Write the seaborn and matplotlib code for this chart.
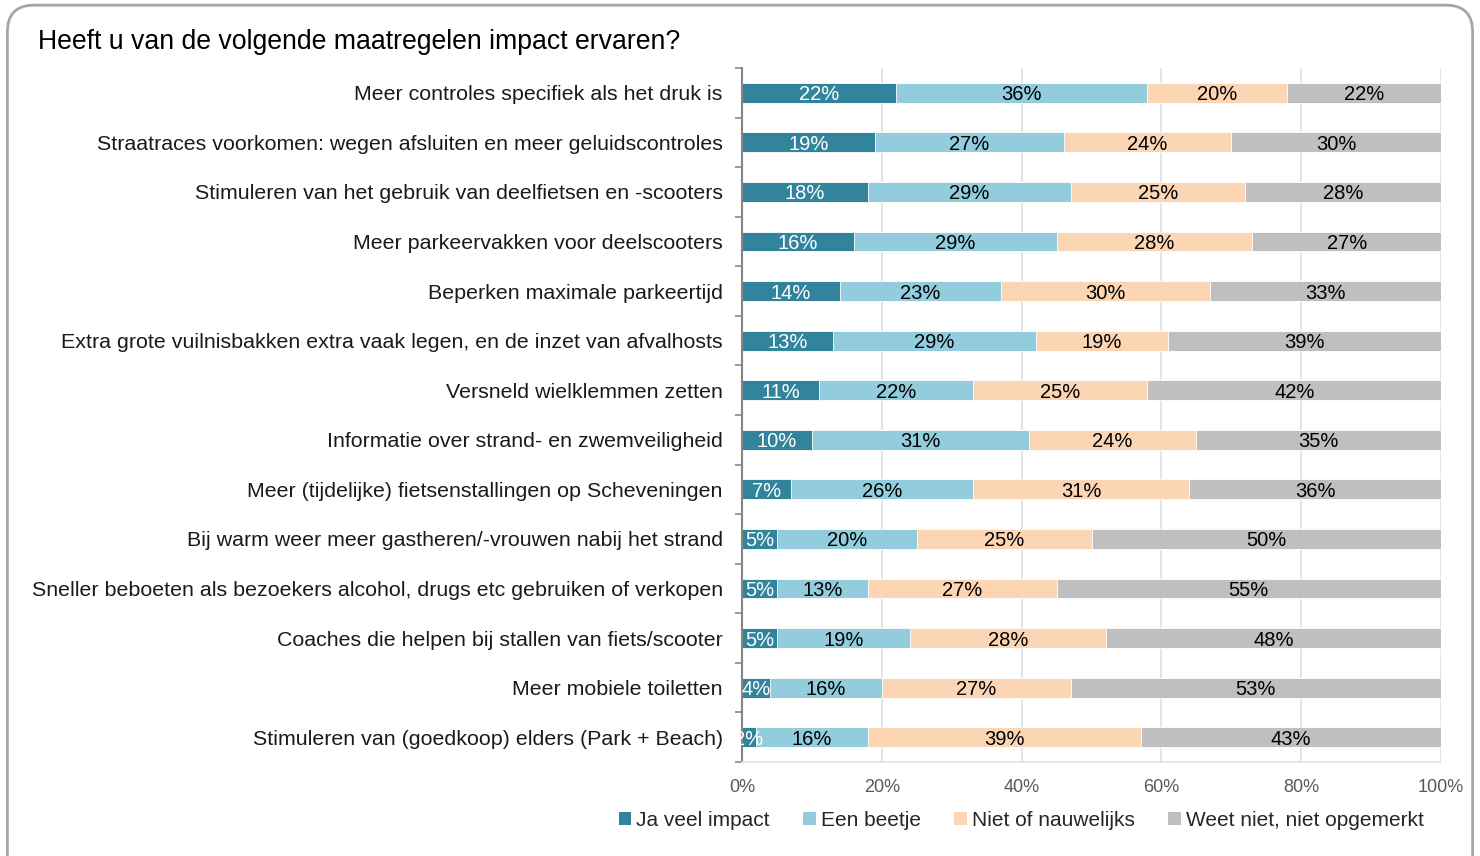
import matplotlib
matplotlib.use("Agg")
import matplotlib.pyplot as plt
from matplotlib.patches import Patch, FancyBboxPatch
import seaborn as sns
import pandas as pd

# DATA
categories = [
    "Meer controles specifiek als het druk is",
    "Straatraces voorkomen: wegen afsluiten en meer geluidscontroles",
    "Stimuleren van het gebruik van deelfietsen en -scooters",
    "Meer parkeervakken voor deelscooters",
    "Beperken maximale parkeertijd",
    "Extra grote vuilnisbakken extra vaak legen, en de inzet van afvalhosts",
    "Versneld wielklemmen zetten",
    "Informatie over strand- en zwemveiligheid",
    "Meer (tijdelijke) fietsenstallingen op Scheveningen",
    "Bij warm weer meer gastheren/-vrouwen nabij het strand",
    "Sneller beboeten als bezoekers alcohol, drugs etc gebruiken of verkopen",
    "Coaches die helpen bij stallen van fiets/scooter",
    "Meer mobiele toiletten",
    "Stimuleren van (goedkoop) elders (Park + Beach)",
]
ja_veel = [22, 19, 18, 16, 14, 13, 11, 10, 7, 5, 5, 5, 4, 2]
een_beetje = [36, 27, 29, 29, 23, 29, 22, 31, 26, 20, 13, 19, 16, 16]
niet = [20, 24, 25, 28, 30, 19, 25, 24, 31, 25, 27, 28, 27, 39]
weet_niet = [22, 30, 28, 27, 33, 39, 42, 35, 36, 50, 55, 48, 53, 43]

series = ["Ja veel impact", "Een beetje", "Niet of nauwelijks", "Weet niet, niet opgemerkt"]
colors = ["#31849B", "#93CDDD", "#FCD5B4", "#BFBFBF"]
text_colors = ["white", "black", "black", "black"]

df = pd.DataFrame({"cat": categories, series[0]: ja_veel, series[1]: een_beetje,
                   series[2]: niet, series[3]: weet_niet})
cum = df[series].cumsum(axis=1)

plt.rcParams["font.family"] = ["Liberation Sans", "DejaVu Sans"]

fig = plt.figure(figsize=(14.8, 8.56), dpi=100)
ax = fig.add_axes([0.5014, 0.1098, 0.4723, 0.8108])

# stacked bars: draw cumulative totals, widest first
for i in range(3, -1, -1):
    sns.barplot(x=cum[series[i]], y=df["cat"], color=colors[i], orient="h",
                width=0.4, saturation=1, edgecolor="white", linewidth=0.6, ax=ax, zorder=2)

# value labels
for r in range(len(categories)):
    for i, s in enumerate(series):
        v = df.loc[r, s]
        ax.text(cum.loc[r, s] - v / 2, r, f"{v}%", ha="center", va="center_baseline",
                fontsize=14.5, color=text_colors[i], zorder=3)

ax.set_xlim(0, 100)
ax.set_ylim(len(categories) - 0.5, -0.5)
ax.set_xticks(range(0, 101, 20))
ax.set_xticklabels([f"{t}%" for t in range(0, 101, 20)])
ax.set_xlabel("")
ax.set_ylabel("")
ax.grid(axis="x", color="#D9E1EE", linewidth=1.2, zorder=0)
ax.set_axisbelow(True)

for side in ["top", "right"]:
    ax.spines[side].set_visible(False)
ax.spines["bottom"].set_color("#D9E1EE")
ax.spines["bottom"].set_linewidth(1.2)
ax.spines["left"].set_color("#868686")
ax.spines["left"].set_linewidth(1.5)

ax.tick_params(axis="x", length=0, labelsize=13, labelcolor="#595959", pad=12)
ax.tick_params(axis="y", which="major", length=0, labelsize=15.4, labelcolor="#1a1a1a", pad=14)
for lab in ax.get_yticklabels():
    lab.set_verticalalignment("center_baseline")
ax.set_yticks([r + 0.5 for r in range(-1, len(categories))], minor=True)
ax.tick_params(axis="y", which="minor", length=5, width=1.2, color="#868686")

fig.text(0.026, 0.955, "Heeft u van de volgende maatregelen impact ervaren?",
         fontsize=19.2, color="black", va="center_baseline", ha="left")

handles = [Patch(facecolor=c, edgecolor="none") for c in colors]
fig.legend(handles, series, loc="center", bbox_to_anchor=(0.69, 0.042), ncol=4,
           frameon=False, fontsize=15, handlelength=0.6, handleheight=0.6,
           handletextpad=0.25, columnspacing=1.6, labelcolor="#262626")

frame = FancyBboxPatch((0.005, -0.03), 0.99, 1.024, boxstyle="round,pad=0,rounding_size=0.018",
                       transform=fig.transFigure, facecolor="none", edgecolor="#A6A6A6",
                       linewidth=2, zorder=10, mutation_aspect=14.8 / 8.56)
fig.patches.append(frame)

fig.savefig("out.png", dpi=100)
